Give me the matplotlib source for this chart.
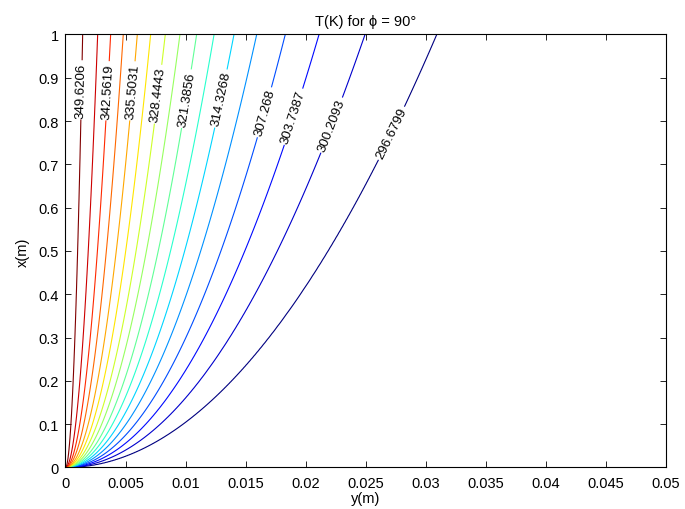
import numpy as np
import matplotlib
matplotlib.use('Agg')
import matplotlib.pyplot as plt
import matplotlib.ticker as ticker
from matplotlib.colors import Normalize

plt.rcParams['font.family'] = ['Liberation Sans', 'DejaVu Sans']

# Niveles de temperatura (K) de las isotermas
niveles = [296.6799, 300.2093, 303.7387, 307.268, 310.7974, 314.3268,
           317.8562, 321.3856, 324.915, 328.4443, 331.9737, 335.5031,
           339.0325, 342.5619, 346.0912, 349.6206]
# Posicion y (m) de cada isoterma en x = 1 m
y_en_x1 = [0.03091, 0.02494, 0.02111, 0.01830, 0.01592, 0.01403,
           0.01237, 0.01092, 0.00953, 0.00831, 0.00709, 0.00598,
           0.00481, 0.00376, 0.00268, 0.00143]
T_pared = 353.15
T_inf = 293.15
exponente = 0.5          # crecimiento de la capa limite y ~ x^0.5
niveles_etiqueta = [296.6799, 300.2093, 303.7387, 307.268, 314.3268,
                    321.3856, 328.4443, 335.5031, 342.5619, 349.6206]
niveles_sin = [v for v in niveles if v not in niveles_etiqueta]

# Campo de temperatura por similitud
eta_pts = np.concatenate([[0.0], y_en_x1[::-1], [0.045]])
T_pts = np.concatenate([[T_pared], niveles[::-1], [T_inf]])

yy = np.linspace(0, 0.05, 1201)
xx = np.linspace(0, 1, 601)
Y, X = np.meshgrid(yy, xx)
with np.errstate(divide='ignore', invalid='ignore'):
    eta = np.where(X > 0, Y / X**exponente, np.where(Y > 0, 1.0, 0.0))
T = np.interp(eta, eta_pts, T_pts)

fig = plt.figure(figsize=(6.85, 5.1), dpi=100)
ax = fig.add_axes([0.0956, 0.0814, 0.8766, 0.849])

norma = Normalize(min(niveles), max(niveles))
ax.contour(Y, X, T, levels=niveles_sin, cmap='jet', norm=norma, linewidths=0.8)
cs = ax.contour(Y, X, T, levels=niveles_etiqueta, cmap='jet', norm=norma,
                linewidths=0.8)

# Posiciones de las etiquetas
pos_etiquetas = [(0.02730, 0.770), (0.02230, 0.789), (0.01911, 0.809),
                 (0.01661, 0.820), (0.01314, 0.851), (0.01023, 0.851),
                 (0.00773, 0.862), (0.00551, 0.870), (0.00348, 0.870),
                 (0.00154, 0.872)]
ax.clabel(cs, manual=pos_etiquetas, inline=True,
          inline_spacing=2, fontsize=9.5, colors='k',
          fmt=lambda v: f'{v:.4f}'.rstrip('0'))

ax.set_xlim(0, 0.05)
ax.set_ylim(0, 1)
ax.set_xticks(np.arange(0, 0.0501, 0.005))
ax.set_yticks(np.arange(0, 1.001, 0.1))
ax.xaxis.set_major_formatter(ticker.FuncFormatter(lambda v, p: f'{v:g}'))
ax.yaxis.set_major_formatter(ticker.FuncFormatter(lambda v, p: f'{v:g}'))
ax.tick_params(direction='in', top=True, right=True, labelsize=10.5,
               length=4, width=0.6)
ax.tick_params(axis='x', pad=6)
ax.tick_params(axis='y', pad=5)
for s in ax.spines.values():
    s.set_linewidth(0.8)

ax.set_xlabel('y(m)', fontsize=10.5, labelpad=1)
ax.set_ylabel('x(m)', fontsize=10.5, labelpad=6)
ax.set_title('T(K) for ϕ = 90°', fontsize=10.5, pad=7)

fig.savefig('out.png', dpi=100)
